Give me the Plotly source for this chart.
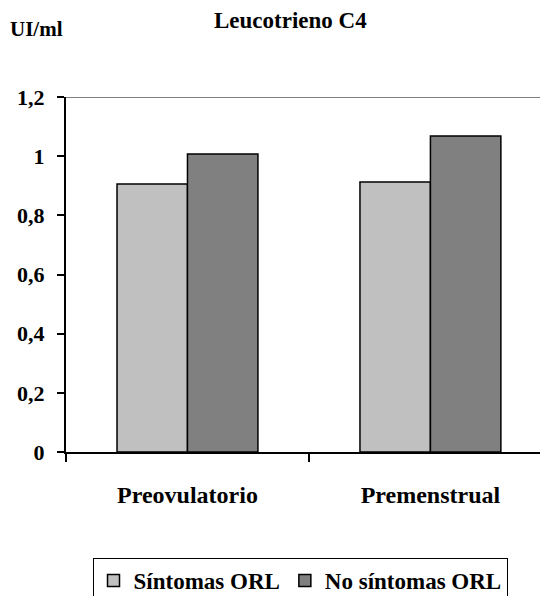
import plotly.graph_objects as go

categories = ["Preovulatorio", "Premenstrual"]
sintomas = [0.906, 0.913]
no_sintomas = [1.007, 1.068]
series_names = ["Síntomas ORL", "No síntomas ORL"]
y_ticks = [0, 0.2, 0.4, 0.6, 0.8, 1, 1.2]

FONT = "Liberation Serif"

fig = go.Figure()
fig.add_trace(go.Bar(x=categories, y=sintomas, name="<b>" + series_names[0] + "</b>",
                     marker=dict(color="#c0c0c0", line=dict(color="black", width=1.5))))
fig.add_trace(go.Bar(x=categories, y=no_sintomas, name="<b>" + series_names[1] + "</b>",
                     marker=dict(color="#808080", line=dict(color="black", width=1.5))))

# page has an 8px body margin, so the figure is 8px smaller and shifted
fig.update_layout(
    width=540, height=588,
    margin=dict(l=58, r=0, t=89, b=144, autoexpand=False),
    plot_bgcolor="white", paper_bgcolor="white",
    barmode="group", bargap=0.42, bargroupgap=0,
    font=dict(family=FONT, color="black"),
    showlegend=True,
    legend=dict(orientation="h", x=0.4855, xanchor="center", y=-0.2986, yanchor="top",
                bordercolor="black", borderwidth=1,
                font=dict(family=FONT, size=23, color="black"),
                itemwidth=30, traceorder="normal"),
)
fig.update_xaxes(type="category", range=[-0.5, 1.484], showline=True, linecolor="black", linewidth=2,
                 ticks="outside", tickson="boundaries", ticklen=8, tickwidth=2, tickcolor="black",
                 tickfont=dict(family=FONT, size=24, color="black"), showgrid=False,
                 ticklabelstandoff=20, automargin=False,
                 tickvals=categories, ticktext=["<b>" + c + "</b>" for c in categories])
fig.update_yaxes(range=[0, 1.2], showline=True, linecolor="black", linewidth=2,
                 ticks="outside", ticklen=7, tickwidth=2, tickcolor="black", showgrid=False,
                 zeroline=False, tickfont=dict(family=FONT, size=22, color="black"),
                 automargin=False, ticklabelstandoff=8,
                 tickvals=y_ticks,
                 ticktext=["<b>" + str(v).replace(".", ",") + "</b>" for v in y_ticks])

fig.add_shape(type="line", xref="paper", yref="y", x0=0, x1=1, y0=1.2, y1=1.2,
              line=dict(color="#808080", width=2))

fig.add_annotation(text="<b>Leucotrieno C4</b>", xref="paper", yref="paper",
                   x=(290 - 66) / 482, y=(452 - 20) / 355, xanchor="center", yanchor="middle",
                   showarrow=False, font=dict(family=FONT, size=23, color="black"))
fig.add_annotation(text="<b>UI/ml</b>", xref="paper", yref="paper",
                   x=(36 - 66) / 482, y=(452 - 29) / 355, xanchor="center", yanchor="middle",
                   showarrow=False, font=dict(family=FONT, size=21, color="black"))

fig.write_html("out.html")
